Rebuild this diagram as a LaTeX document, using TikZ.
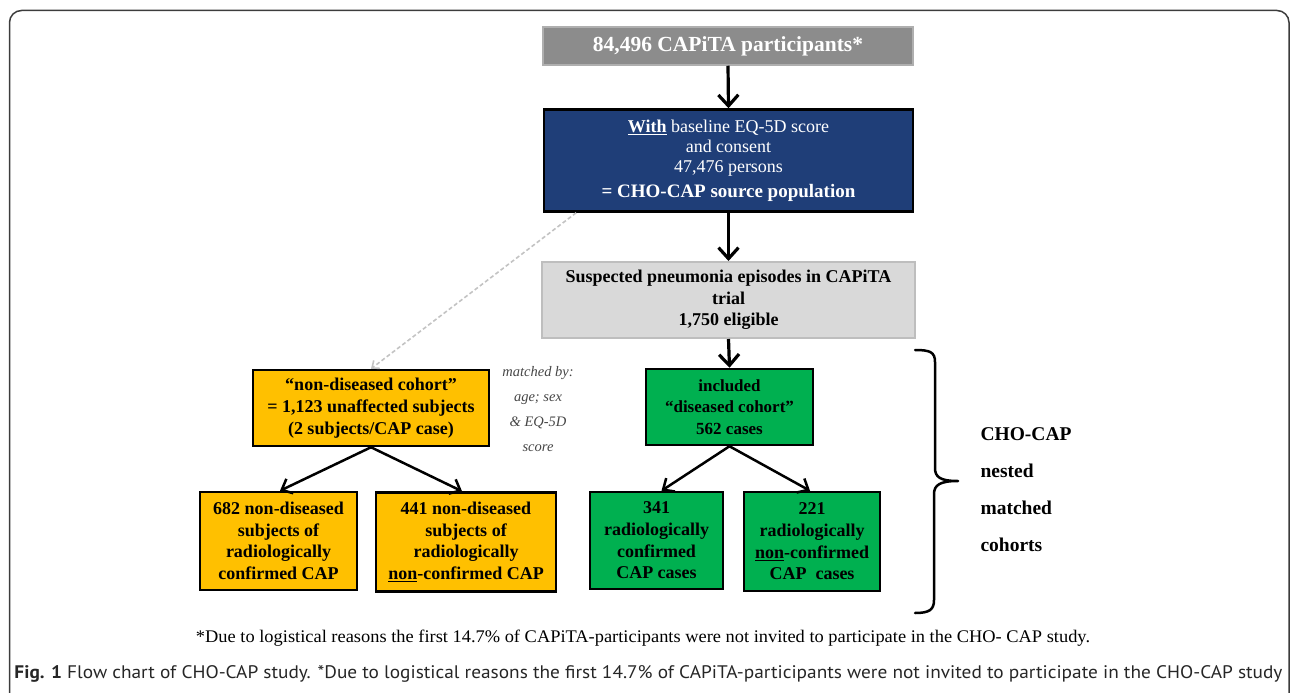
\documentclass[tikz,border=0pt]{standalone}
\usepackage{fontspec}
\setmainfont{Liberation Serif}
\newfontfamily\capfont{PT Sans}
\usetikzlibrary{arrows.meta,calc}

\definecolor{topgray}{RGB}{140,140,140}
\definecolor{topgrayb}{RGB}{175,175,175}
\definecolor{navy}{RGB}{31,62,120}
\definecolor{lgray}{RGB}{217,217,217}
\definecolor{lgrayb}{RGB}{190,190,190}
\definecolor{cgreen}{RGB}{0,176,80}
\definecolor{corange}{RGB}{255,192,0}
\definecolor{dashgray}{RGB}{195,195,195}
\definecolor{framecol}{RGB}{60,60,60}
\definecolor{matchcol}{RGB}{70,70,70}

\begin{document}
\begin{tikzpicture}[x=1pt,y=-1pt,
  box/.style={rectangle, draw=black, line width=2.5pt, inner sep=0pt, align=center,
    font=\fontsize{18}{21.6}\selectfont\bfseries},
  flow/.style={line width=3.2pt, -{Straight Barb[length=11pt,width=20pt]}},
  split/.style={line width=2.5pt, -{Straight Barb[length=9pt,width=16pt]}},
  dashedlink/.style={draw=dashgray, line width=1.6pt, dash pattern=on 4pt off 2.5pt,
    -{Straight Barb[length=6pt,width=10pt]}},
  bracestyle/.style={line width=2.5pt, line cap=round, line join=round},
]
\useasboundingbox (0,0) rectangle (1290,693);

% outer frame
\draw[framecol, line width=1.5pt, rounded corners=12pt] (9.5,10.5) rectangle (1289,740);

% top box
\node[rectangle, draw=topgrayb, line width=1.5pt, fill=topgray, minimum width=370pt, minimum height=38pt,
  inner sep=0pt, text=white, font=\fontsize{21.5}{24}\selectfont\bfseries] (top) at (728,46)
  {84,496 CAPiTA participants*};

% blue box
\node[box, fill=navy, text=white, minimum width=369pt, minimum height=102pt,
  font=\fontsize{18}{20}\selectfont] (blue) at (728.5,160.5)
  {\underline{\textbf{With}} baseline EQ-5D score\\ and consent\\ 47,476 persons\\[5pt]
   {\fontsize{19}{19}\selectfont\bfseries = CHO-CAP source population}};

% light gray box
\node[box, draw=lgrayb, line width=2pt, fill=lgray, minimum width=373pt, minimum height=76pt] (susp) at (728.5,300)
  {Suspected pneumonia episodes in CAPiTA\\ trial\\ 1,750 eligible};

% green top
\node[box, fill=cgreen, minimum width=167pt, minimum height=76pt,
  font=\fontsize{17}{21.5}\selectfont\bfseries] (gtop) at (729.5,407)
  {included\\ ``diseased cohort''\\ 562 cases};

% orange top
\node[box, fill=corange, minimum width=236pt, minimum height=76pt,
  font=\fontsize{18}{22}\selectfont\bfseries] (otop) at (371,408)
  {``non-diseased cohort''\\ = 1,123 unaffected subjects\\ (2 subjects/CAP case)};

% matched by
\node[align=center, text=matchcol, font=\fontsize{14.5}{25}\selectfont\itshape] (match) at (538,409)
  {matched by:\\ age; sex\\ \& EQ-5D\\ score};

% bottom row
\node[box, fill=corange, minimum width=157pt, minimum height=98pt] (oc1) at (278.5,541)
  {682 non-diseased\\ subjects of\\ radiologically\\ confirmed CAP};
\node[box, fill=corange, minimum width=180pt, minimum height=99pt] (oc2) at (466,542)
  {441 non-diseased\\ subjects of\\ radiologically\\ \underline{non}-confirmed CAP};
\node[box, fill=cgreen, minimum width=133pt, minimum height=97pt] (gc1) at (656.5,540.5)
  {341\\ radiologically\\ confirmed\\ CAP cases};
\node[box, fill=cgreen, minimum width=136pt, minimum height=99pt] (gc2) at (812,541.5)
  {221\\ radiologically\\ \underline{non}-confirmed\\ CAP~~cases};

% arrows
\draw[flow] (top.south) -- (blue.north);
\draw[flow] (blue.south) -- (susp.north);
\draw[flow] (susp.south) -- (gtop.north);
\draw[split] (otop.south) -- ($(oc1.north)+(1.5,0)$);
\draw[split] (otop.south) -- ($(oc2.north)+(-4,0)$);
\draw[split] (gtop.south) -- ($(gc1.north)+(5,0)$);
\draw[split] (gtop.south) -- ($(gc2.north)+(-2,0)$);
\draw[dashedlink] ($(blue.south west)!0.09!(blue.south east)$) -- (otop.north);

% brace
\draw[bracestyle] (915,350) .. controls (930,350) and (935,352) .. (935,362)
  -- (935,468) .. controls (935,477) and (940,481) .. (958,481)
  .. controls (940,481) and (934,485) .. (934,494)
  -- (934,600) .. controls (934,610) and (929,613) .. (915,613);

\node[anchor=west, align=left, font=\fontsize{19.5}{37}\selectfont\bfseries] (cohorts) at (977,490)
  {CHO-CAP\\ nested\\ matched\\ cohorts};

% footnote
\node (fn) at (643,638) {\resizebox{894pt}{12.5pt}{\fontsize{17}{17}\selectfont *Due to logistical reasons the first 14.7\% of CAPiTA-participants were not invited to participate in the CHO- CAP study.}};

% caption
\node[text=black!85] (cap) at (648.5,674) {\resizebox{1268pt}{13pt}{\capfont\fontsize{17}{17}\selectfont{\bfseries Fig. 1} Flow chart of CHO-CAP study. *Due to logistical reasons the first 14.7\% of CAPiTA-participants were not invited to participate in the CHO-CAP study}};
\end{tikzpicture}
\end{document}
